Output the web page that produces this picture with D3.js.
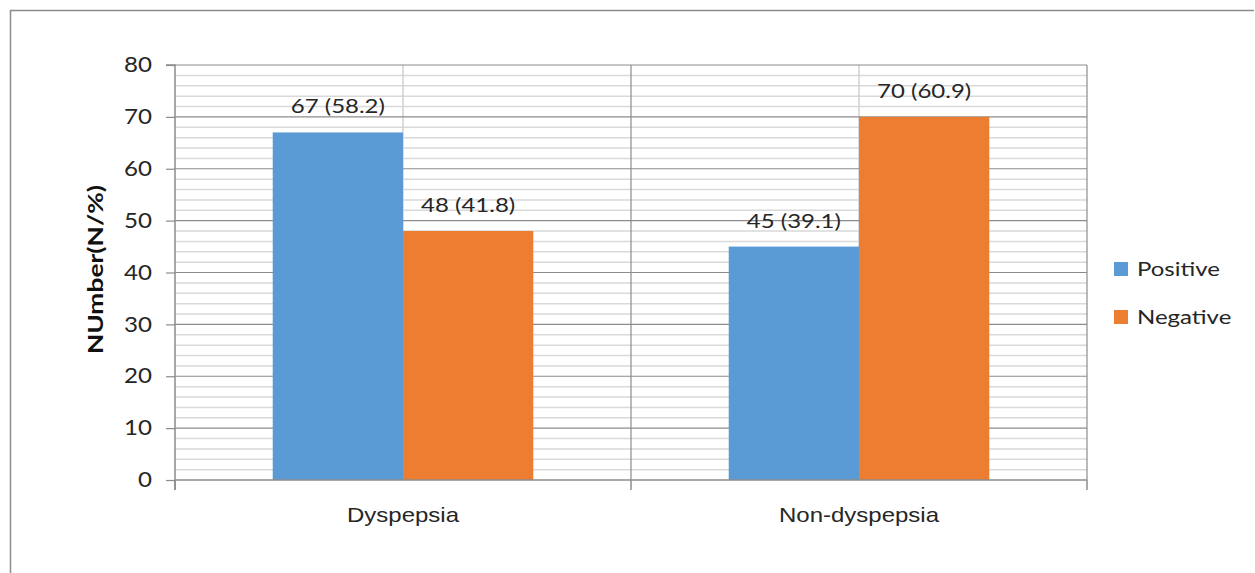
<!DOCTYPE html>
<html>
<head>
<meta charset="utf-8">
<script src="https://cdn.jsdelivr.net/npm/d3@7"></script>
<style>
  html, body { margin: 0; padding: 0; background: #fff; }
  svg { display: block; font-family: Lato, "Open Sans", sans-serif; }
</style>
</head>
<body>
<svg id="chart" width="1255" height="573"></svg>
<script>
// Chart data
const categories = ["Dyspepsia", "Non-dyspepsia"];
const seriesNames = ["Positive", "Negative"];
const positiveValues = [67, 45];
const negativeValues = [48, 70];
const positiveLabels = ["67 (58.2)", "45 (39.1)"];
const negativeLabels = ["48 (41.8)", "70 (60.9)"];
const yTicks = [0, 10, 20, 30, 40, 50, 60, 70, 80];
const colors = ["#5B9BD5", "#ED7D31"];

const series = [
  { name: seriesNames[0], values: positiveValues, labels: positiveLabels, color: colors[0] },
  { name: seriesNames[1], values: negativeValues, labels: negativeLabels, color: colors[1] }
];

const svg = d3.select("#chart");
const plot = { left: 175, right: 1087, top: 65, bottom: 480 };
const FS = 20;          // base font size
const SX = 1.2;         // horizontal widening of the text glyphs
const TEXT = "#262626";

// Text helper: places a horizontally widened label at (x, y)
function label(parent, x, y, str, anchor) {
  return parent.append("g").attr("transform", `translate(${x},${y}) scale(${SX},1)`)
    .append("text")
    .attr("text-anchor", anchor || "middle")
    .attr("font-size", FS).attr("fill", TEXT)
    .text(str);
}

// Outer frame
svg.append("path")
  .attr("d", "M10.5,573 V10.5 H1254")
  .attr("fill", "none").attr("stroke", "#8c8c8c").attr("stroke-width", 1.5);

const x0 = d3.scaleBand().domain(categories).range([plot.left, plot.right]).padding(0);
const x1 = d3.scaleBand().domain(seriesNames).range([0, x0.bandwidth()])
  .paddingInner(0).paddingOuter(0.75);
const y = d3.scaleLinear().domain([0, 80]).range([plot.bottom, plot.top]);

// Minor horizontal gridlines every 2
const minor = d3.range(2, 81, 2).filter(v => v % 10 !== 0);
svg.append("g").selectAll("line").data(minor).join("line")
  .attr("x1", plot.left).attr("x2", plot.right)
  .attr("y1", d => y(d)).attr("y2", d => y(d))
  .attr("stroke", "#d9d9d9").attr("stroke-width", 1.5);

// Minor vertical gridlines at category centres
svg.append("g").selectAll("line").data(categories).join("line")
  .attr("x1", d => x0(d) + x0.bandwidth() / 2).attr("x2", d => x0(d) + x0.bandwidth() / 2)
  .attr("y1", plot.top).attr("y2", plot.bottom)
  .attr("stroke", "#d0d0d0").attr("stroke-width", 1.5);

// Major horizontal gridlines
svg.append("g").selectAll("line").data(yTicks.filter(v => v > 0)).join("line")
  .attr("x1", plot.left).attr("x2", plot.right)
  .attr("y1", d => y(d)).attr("y2", d => y(d))
  .attr("stroke", "#8c8c8c").attr("stroke-width", 1.2);

// Major vertical gridlines at category boundaries
const boundaries = [x0(categories[1]), plot.right];
svg.append("g").selectAll("line").data(boundaries).join("line")
  .attr("x1", d => d).attr("x2", d => d)
  .attr("y1", plot.top).attr("y2", plot.bottom)
  .attr("stroke", "#8c8c8c").attr("stroke-width", 1.2);

// Bars
series.forEach(s => {
  svg.append("g").selectAll("rect").data(categories).join("rect")
    .attr("x", (c) => x0(c) + x1(s.name))
    .attr("y", (c, i) => y(s.values[i]))
    .attr("width", x1.bandwidth())
    .attr("height", (c, i) => y(0) - y(s.values[i]))
    .attr("fill", s.color);
});

// Y axis
const yAxis = svg.append("g").attr("transform", `translate(${plot.left},0)`)
  .call(d3.axisLeft(y).tickValues(yTicks).tickSize(9).tickPadding(14).tickFormat(d3.format("d")));
yAxis.select(".domain").attr("stroke", "#8c8c8c").attr("stroke-width", 1.5)
  .attr("d", `M-9,${plot.top}H0V${plot.bottom + 10}`);
yAxis.selectAll(".tick line").attr("stroke", "#8c8c8c").attr("stroke-width", 1.2);
yAxis.selectAll(".tick text")
  .attr("font-size", FS + 1).attr("fill", TEXT)
  .attr("font-family", "Lato, 'Open Sans', sans-serif")
  .attr("x", -23 / 1.15)
  .attr("transform", "scale(1.15,1)");

// X axis
const xAxis = svg.append("g").attr("transform", `translate(0,${plot.bottom})`)
  .call(d3.axisBottom(x0).tickSize(0).tickPadding(28));
xAxis.select(".domain").attr("stroke", "#8c8c8c").attr("stroke-width", 1.5)
  .attr("d", `M${plot.left},0H${plot.right}`);
xAxis.selectAll(".tick text").remove();
xAxis.selectAll(".tick").each(function (d) {
  label(d3.select(this), 0, 42, d);
});
svg.append("g").selectAll("line").data([plot.left, ...boundaries]).join("line")
  .attr("x1", d => d).attr("x2", d => d)
  .attr("y1", plot.bottom).attr("y2", plot.bottom + 10)
  .attr("stroke", "#8c8c8c").attr("stroke-width", 1.5);

// Data labels
const labelLayer = svg.append("g");
series.forEach(s => {
  categories.forEach((c, i) => {
    label(labelLayer, x0(c) + x1(s.name) + x1.bandwidth() / 2, y(s.values[i]) - 19, s.labels[i]);
  });
});

// Y axis title
svg.append("g")
  .attr("transform", `translate(103,${(plot.top + plot.bottom) / 2 - 3}) rotate(-90) scale(1.32,1)`)
  .append("text")
  .attr("text-anchor", "middle")
  .attr("font-size", FS).attr("font-weight", "bold").attr("fill", "#111")
  .text("NUmber(N/%)");

// Legend
const legend = svg.append("g").selectAll("g").data(series).join("g")
  .attr("transform", (d, i) => `translate(1114,${262 + i * 48})`);
legend.append("rect").attr("width", 14).attr("height", 14).attr("fill", d => d.color);
legend.each(function (d) {
  label(d3.select(this), 23, 14, d.name, "start");
});
</script>
</body>
</html>
